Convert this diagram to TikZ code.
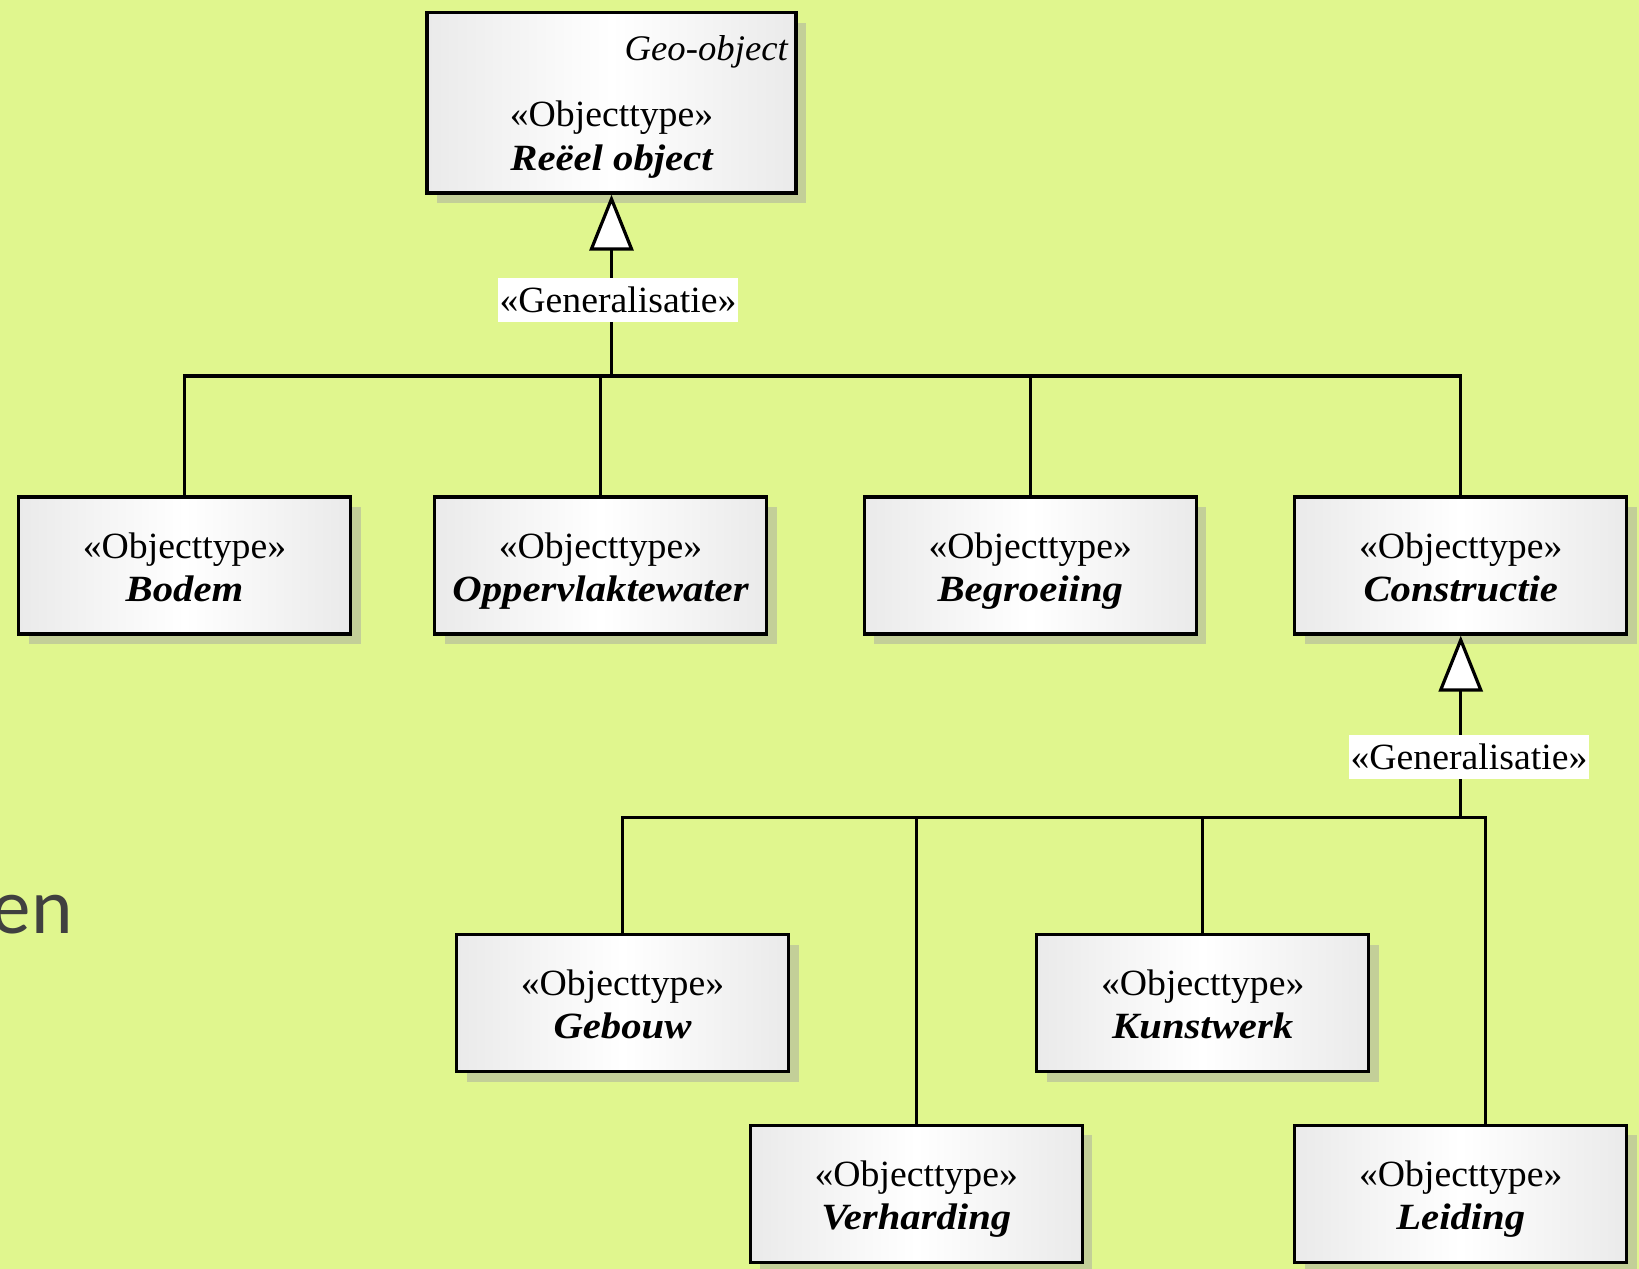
\documentclass[tikz,border=0pt]{standalone}
\usepackage{fontspec}
\setmainfont{Liberation Serif}[FakeStretch=1.02]
\newfontfamily\namefont[FakeStretch=1.1]{Liberation Serif}
\newfontfamily\ensans{Carlito}
\usetikzlibrary{arrows.meta,shadows}
\definecolor{bg}{RGB}{224,246,142}
\definecolor{shadowcol}{RGB}{195,207,152}
\definecolor{boxgray}{RGB}{234,234,234}
\definecolor{entext}{RGB}{64,64,64}
\begin{document}
\begin{tikzpicture}[x=1pt,y=-1pt,
  umlbox/.style={draw=black, line width=3.2pt, minimum width=332pt, minimum height=137pt, inner sep=0pt,
    left color=boxgray, right color=boxgray, middle color=white,
    drop shadow={shadow xshift=10pt, shadow yshift=-10pt, fill=shadowcol, opacity=1}},
  stereo/.style={anchor=base, inner sep=0pt, font=\fontsize{37}{44}\selectfont},
  clsname/.style={anchor=base, inner sep=0pt, font=\fontsize{37}{44}\namefont\bfseries\itshape},
  conn/.style={line width=3.2pt},
  gen/.style={line width=3.2pt, -{Triangle[open, length=56pt, width=44pt, fill=white]}},
  genlabel/.style={fill=white, inner xsep=2pt, inner ysep=0pt, minimum height=44pt, font=\fontsize{37}{44}\selectfont}
]
\useasboundingbox (0,0) rectangle (1639,1269);
\fill[bg] (0,0) rectangle (1639,1269);
\clip (0,0) rectangle (1639,1269);

\newcommand\objbox[4]{%
  \node[umlbox] (#1) at (#2,#3) {};
  \node[stereo] (#1s) at (#2,{#3-7.5}) {«Objecttype»};
  \node[clsname] (#1n) at (#2,{#3+35.5}) {#4};
}

% side text (cut off at the left edge, as in the original)
\node[anchor=base east, inner sep=0pt, text=entext, font=\fontsize{79}{90}\ensans] (en) at (73,933) {en};

% top box
\node[umlbox, minimum width=369pt, minimum height=180.5pt] (reeel) at (611.5,102.75) {};
\node[anchor=base east, inner sep=0pt, font=\fontsize{36}{44}\selectfont\itshape] (geo) at (788,60.7) {Geo-object};
\node[stereo] (reeels) at (611.5,126.7) {«Objecttype»};
\node[clsname] (reeeln) at (611.5,170) {Reëel object};

% row 1
\objbox{bodem}{184.5}{565.5}{Bodem}
\objbox{opper}{600.5}{565.5}{Oppervlaktewater}
\objbox{begroei}{1030.25}{565.5}{Begroeiing}
\objbox{constr}{1460.75}{565.5}{Constructie}

% row 2
\objbox{gebouw}{622.5}{1003}{Gebouw}
\objbox{kunst}{1202.7}{1003}{Kunstwerk}

% row 3
\objbox{verh}{916.25}{1193.75}{Verharding}
\objbox{leiding}{1460.75}{1193.75}{Leiding}

% connectors
\coordinate (bus1) at (611.5,376);
\coordinate (bus2) at (1460.75,817.3);
\coordinate (leidtop) at ([xshift=24.6pt]leiding.north);

\draw[conn] (bodem.north) |- (bus1);
\draw[conn] (opper.north) |- (bus1);
\draw[conn] (begroei.north) |- (bus1);
\draw[conn] (constr.north) |- (bus1);
\draw[gen] (bus1) -- (reeel.south);

\draw[conn] (gebouw.north) |- (bus2);
\draw[conn] (verh.north) |- (bus2);
\draw[conn] (kunst.north) |- (bus2);
\draw[conn] (leidtop) |- (bus2);
\draw[gen] (bus2) -- (constr.south);

% labels
\node[genlabel] (g1) at (618,300) {«Generalisatie»};
\node[genlabel] (g2) at (1469,757) {«Generalisatie»};
\end{tikzpicture}
\end{document}
